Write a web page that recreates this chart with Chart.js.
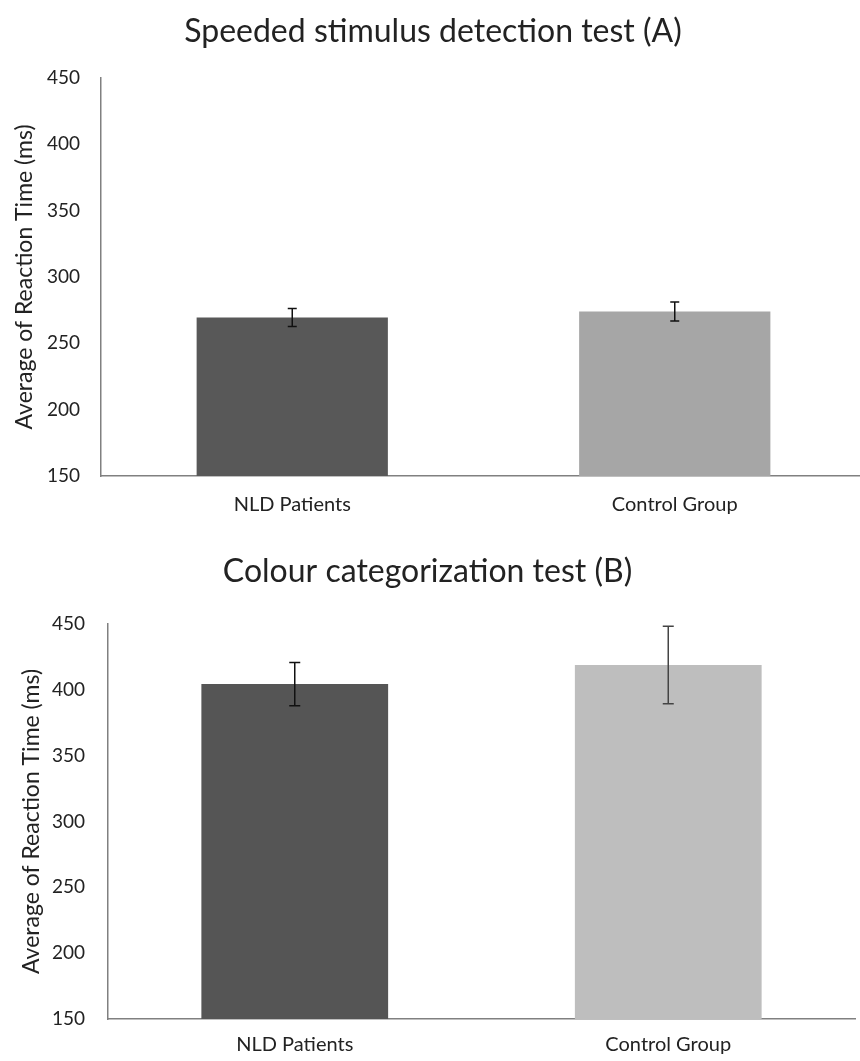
<!DOCTYPE html>
<html>
<head>
<meta charset="utf-8">
<script src="https://cdn.jsdelivr.net/npm/chart.js@4"></script>
<style>
  body { margin: 0; background: #fff; overflow: hidden; width: 860px; height: 1061px; position: relative; }
  canvas { position: absolute; left: 0; }
  #chartA { top: 0; }
  #chartB { top: 540px; }
</style>
</head>
<body>
<canvas id="chartA" width="868" height="545"></canvas>
<canvas id="chartB" width="860" height="521"></canvas>
<script>
const categories = ['NLD Patients', 'Control Group']
const yMin = 150
const yMax = 450
const yStep = 50

// panel A - speeded stimulus detection
const detectionMeans = [269.4, 274.0]
const detectionErrors = [6.8, 7.2]

// panel B - colour categorization
const colourMeans = [404.4, 418.9]
const colourErrors = [16.4, 29.4]

const FONT = 'Lato, "Open Sans", sans-serif'
const TITLE_SIZE = 32

// simple +/- error bars drawn on top of each bar
const errorBars = {
    id: 'errorBars',
    afterDatasetsDraw(chart, args, opts) {
        const ctx = chart.ctx
        const y = chart.scales.y
        const values = chart.data.datasets[0].data
        chart.getDatasetMeta(0).data.forEach((bar, i) => {
            const top = y.getPixelForValue(values[i] + opts.errors[i])
            const bottom = y.getPixelForValue(values[i] - opts.errors[i])
            ctx.save()
            ctx.strokeStyle = opts.colors[i]
            ctx.lineWidth = 1.5
            ctx.beginPath()
            ctx.moveTo(bar.x, top)
            ctx.lineTo(bar.x, bottom)
            ctx.moveTo(bar.x - opts.cap, top)
            ctx.lineTo(bar.x + opts.cap, top)
            ctx.moveTo(bar.x - opts.cap, bottom)
            ctx.lineTo(bar.x + opts.cap, bottom)
            ctx.stroke()
            ctx.restore()
        })
    }
}

function makeChart(id, cfg) {
    return new Chart(document.getElementById(id), {
        type: 'bar',
        data: {
            labels: categories,
            datasets: [{
                data: cfg.values,
                backgroundColor: cfg.barColors,
                barPercentage: 0.5,
                categoryPercentage: 1.0
            }]
        },
        options: {
            responsive: false,
            animation: false,
            layout: { padding: { left: 0, right: cfg.padRight, top: 0, bottom: 0 } },
            plugins: {
                legend: { display: false },
                tooltip: { enabled: false },
                title: {
                    display: true,
                    text: cfg.title,
                    color: '#222',
                    font: { family: FONT, size: TITLE_SIZE, weight: 'normal' },
                    padding: { top: 12, bottom: cfg.plotTop - 12 - TITLE_SIZE * 1.2 }
                },
                errorBars: { errors: cfg.errors, colors: cfg.errColors, cap: cfg.cap }
            },
            scales: {
                x: {
                    grid: { display: false, drawTicks: false },
                    border: { display: true, color: '#808080', width: 1.5 },
                    ticks: { color: '#222', padding: cfg.xPad, font: { family: FONT, size: 20 } },
                    afterFit: s => { s.height = cfg.xHeight }
                },
                y: {
                    min: yMin,
                    max: yMax,
                    grid: { display: false, drawTicks: false },
                    border: { display: true, color: '#808080', width: 1.5 },
                    ticks: { stepSize: yStep, color: '#222', padding: cfg.yPad, font: { family: FONT, size: 19 } },
                    title: {
                        display: true,
                        text: 'Average of Reaction Time (ms)',
                        color: '#222',
                        font: { family: FONT, size: 23 },
                        padding: { top: cfg.yTitlePad, bottom: 0 }
                    },
                    afterFit: s => { s.width = cfg.yWidth }
                }
            }
        },
        plugins: [errorBars]
    })
}

makeChart('chartA', {
    title: 'Speeded stimulus detection test (A)',
    values: detectionMeans,
    errors: detectionErrors,
    barColors: ['#585858', '#a6a6a6'],
    errColors: ['#111', '#111'],
    cap: 4.5,
    plotTop: 78,
    xHeight: 545 - 476,
    xPad: 17,
    yWidth: 101,
    yPad: 21,
    yTitlePad: 11,
    padRight: 2
})

makeChart('chartB', {
    title: 'Colour categorization test (B)',
    values: colourMeans,
    errors: colourErrors,
    barColors: ['#555555', '#bebebe'],
    errColors: ['#111', '#444'],
    cap: 5.5,
    plotTop: 84,
    xHeight: 521 - 479,
    xPad: 14,
    yWidth: 108,
    yPad: 23,
    yTitlePad: 18,
    padRight: 5
})
</script>
</body>
</html>
